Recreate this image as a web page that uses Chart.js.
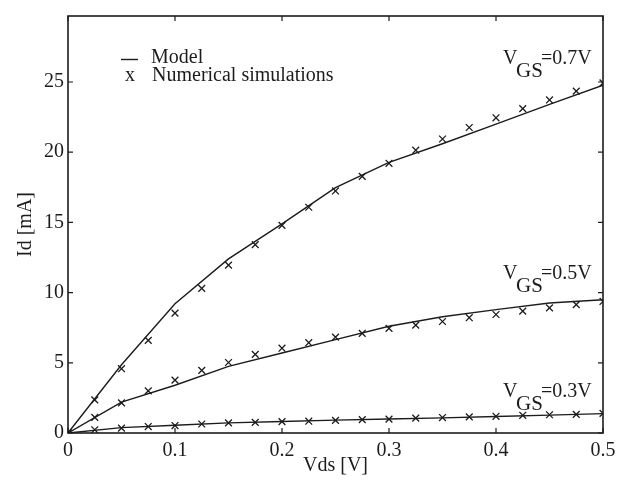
<!DOCTYPE html>
<html lang="en">
<head>
    <meta charset="UTF-8">
    <title>Id - Vds characteristics</title>
    <script src="https://cdn.jsdelivr.net/npm/chart.js"></script>
    <style>
        html, body { margin: 0; padding: 0; background: #fff; }
        #wrap { width: 628px; height: 480px; }
    </style>
</head>
<body>
<div id="wrap"><canvas id="ivChart"></canvas></div>
<script>
    // simulation points (x marks)
    const vdsSim = [0, 0.025, 0.05, 0.075, 0.1, 0.125, 0.15, 0.175, 0.2, 0.225, 0.25,
                    0.275, 0.3, 0.325, 0.35, 0.375, 0.4, 0.425, 0.45, 0.475, 0.5];
    const sim07 = [0, 2.36, 4.58, 6.6, 8.54, 10.3, 11.96, 13.42, 14.79, 16.08, 17.24,
                   18.28, 19.21, 20.14, 20.94, 21.76, 22.45, 23.1, 23.72, 24.35, 24.93];
    const sim05 = [0, 1.11, 2.15, 3.0, 3.77, 4.46, 5.02, 5.6, 6.04, 6.43, 6.83,
                   7.1, 7.45, 7.68, 7.94, 8.21, 8.44, 8.68, 8.91, 9.14, 9.37];
    const sim03 = [0, 0.23, 0.35, 0.46, 0.53, 0.64, 0.72, 0.76, 0.81, 0.84, 0.9,
                   0.95, 0.99, 1.06, 1.1, 1.15, 1.19, 1.26, 1.3, 1.33, 1.4];

    // model curves (solid lines)
    const vdsModel = [0, 0.05, 0.1, 0.15, 0.2, 0.25, 0.3, 0.35, 0.4, 0.45, 0.5];
    const model07 = [0, 4.86, 9.2, 12.4, 14.9, 17.47, 19.28, 20.6, 22.0, 23.4, 24.77];
    const model05 = [0, 2.2, 3.4, 4.75, 5.7, 6.65, 7.6, 8.28, 8.79, 9.26, 9.49];
    const model03 = [0, 0.38, 0.55, 0.72, 0.82, 0.92, 1.0, 1.08, 1.17, 1.27, 1.38];

    const curveLabels = ['0.7V', '0.5V', '0.3V'];
    const yTicks = [0, 5, 10, 15, 20, 25];

    const ink = '#1c1c1c';
    const serif = '"Liberation Serif", "Times New Roman", serif';

    function pts(xs, ys) {
        return xs.map((x, i) => ({ x: x, y: ys[i] }));
    }

    function modelSet(ys) {
        return {
            data: pts(vdsModel, ys),
            showLine: true,
            borderColor: ink,
            borderWidth: 1.4,
            pointRadius: 0,
            tension: 0
        };
    }

    function simSet(ys) {
        return {
            data: pts(vdsSim, ys),
            showLine: false,
            pointStyle: 'crossRot',
            pointRadius: 4.8,
            borderColor: ink,
            borderWidth: 1.3
        };
    }

    // frame, inward ticks on all sides, legend and curve labels
    const decorations = {
        id: 'decorations',
        afterDraw(chart) {
            const ctx = chart.ctx;
            const a = chart.chartArea;
            const xs = chart.scales.x, ys = chart.scales.y;
            ctx.save();
            ctx.strokeStyle = ink;
            ctx.lineWidth = 1.6;
            ctx.strokeRect(a.left, a.top, a.right - a.left, a.bottom - a.top);

            ctx.lineWidth = 1.2;
            const tl = 5;
            ctx.beginPath();
            xs.ticks.forEach(t => {
                const px = xs.getPixelForValue(t.value);
                ctx.moveTo(px, a.bottom); ctx.lineTo(px, a.bottom - tl);
                ctx.moveTo(px, a.top); ctx.lineTo(px, a.top + tl);
            });
            ys.ticks.forEach(t => {
                const py = ys.getPixelForValue(t.value);
                ctx.moveTo(a.left, py); ctx.lineTo(a.left + tl, py);
                ctx.moveTo(a.right, py); ctx.lineTo(a.right - tl, py);
            });
            ctx.stroke();

            // legend
            ctx.fillStyle = ink;
            ctx.font = '20px ' + serif;
            ctx.textBaseline = 'alphabetic';
            ctx.textAlign = 'left';
            ctx.beginPath();
            ctx.lineWidth = 1.4;
            ctx.moveTo(a.left + 53, 59.5); ctx.lineTo(a.left + 70, 59.5);
            ctx.stroke();
            ctx.fillText('Model', a.left + 83, 63);
            ctx.fillText('x', a.left + 57, 81);
            ctx.fillText('Numerical simulations', a.left + 84, 81);

            // V_GS labels
            const labelY = [63.5, 278.5, 397];
            curveLabels.forEach((txt, i) => {
                const base = labelY[i];
                const x0 = a.right - 100;
                ctx.font = '20px ' + serif;
                ctx.fillText('V', x0, base);
                ctx.font = '21px ' + serif;
                ctx.fillText('GS', x0 + 13, base + 13);
                ctx.font = '20px ' + serif;
                ctx.fillText('=' + txt, x0 + 38, base);
            });
            ctx.restore();
        }
    };

    const ctx = document.getElementById('ivChart').getContext('2d');
    new Chart(ctx, {
        type: 'scatter',
        data: {
            datasets: [
                modelSet(model07), modelSet(model05), modelSet(model03),
                simSet(sim07), simSet(sim05), simSet(sim03)
            ]
        },
        options: {
            responsive: true,
            maintainAspectRatio: false,
            animation: false,
            layout: { padding: { left: 14, right: 25, top: 5, bottom: 0 } },
            plugins: {
                legend: { display: false },
                tooltip: { enabled: false }
            },
            scales: {
                x: {
                    type: 'linear',
                    min: 0,
                    max: 0.5,
                    border: { display: false },
                    grid: { display: false, drawTicks: false },
                    ticks: {
                        stepSize: 0.1,
                        color: ink,
                        padding: 6,
                        font: { family: serif, size: 20 },
                        callback: v => (v === 0 ? '0' : v.toFixed(1))
                    },
                    title: {
                        display: true,
                        text: 'Vds [V]',
                        color: ink,
                        padding: { top: 0, bottom: 2 },
                        font: { family: serif, size: 20 }
                    },
                    afterFit(scale) { scale.height = 47; }
                },
                y: {
                    type: 'linear',
                    min: 0,
                    max: 29.7,
                    border: { display: false },
                    grid: { display: false, drawTicks: false },
                    afterBuildTicks(scale) {
                        scale.ticks = yTicks.map(v => ({ value: v }));
                    },
                    ticks: {
                        color: ink,
                        padding: 4,
                        font: { family: serif, size: 20 },
                        callback: v => String(v)
                    },
                    title: {
                        display: true,
                        text: 'Id [mA]',
                        color: ink,
                        padding: { top: 0, bottom: 0 },
                        font: { family: serif, size: 20 }
                    },
                    afterFit(scale) { scale.width = 54; }
                }
            }
        },
        plugins: [decorations]
    });
</script>
</body>
</html>
